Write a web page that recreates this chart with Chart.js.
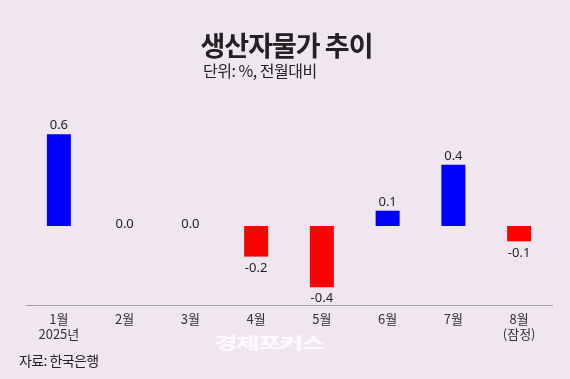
<!DOCTYPE html>
<html><head><meta charset="utf-8">
<script src="https://cdn.jsdelivr.net/npm/chart.js@4/dist/chart.umd.min.js"></script>
<style>
html,body{margin:0;padding:0;background:#f0e6ef;}
#wrap{position:relative;width:570px;height:379px;overflow:hidden;background:#f0e6ef;font-family:"Noto Sans CJK KR","Noto Sans",sans-serif;}
canvas{position:absolute;left:0;top:0;}
.t{position:absolute;white-space:nowrap;}
#title{left:0;width:573px;text-align:center;top:25px;font-size:27px;font-weight:700;color:#222;letter-spacing:-1px;}
#sub{left:203px;top:58px;font-size:16px;color:#222;letter-spacing:-0.5px;}
#src{left:19px;top:350px;font-size:14px;color:#222;letter-spacing:-0.6px;}
#wm{left:214px;top:330px;font-size:16px;font-weight:900;color:#fcfafc;letter-spacing:-1px;transform-origin:0 0;transform:scaleX(1.6);}
</style></head>
<body>
<div id="wrap">
<canvas id="c" width="570" height="379"></canvas>
<div class="t" id="title">생산자물가 추이</div>
<div class="t" id="sub">단위: %, 전월대비</div>
<div class="t" id="src">자료: 한국은행</div>
<div class="t" id="wm">경제포커스</div>
</div>
<script>
const categories = [["1월","2025년"],"2월","3월","4월","5월","6월","7월",["8월","(잠정)"]];
const values = [0.6, 0.0, 0.0, -0.2, -0.4, 0.1, 0.4, -0.1];
const valueLabels = ["0.6","0.0","0.0","-0.2","-0.4","0.1","0.4","-0.1"];

const labelPlugin = {
  id:'vlabels',
  afterDatasetsDraw(chart){
    const ctx = chart.ctx;
    const meta = chart.getDatasetMeta(0);
    ctx.save();
    ctx.font = '13px "Noto Sans","Noto Sans CJK KR",sans-serif';
    ctx.fillStyle = '#222';
    ctx.textAlign = 'center';
    meta.data.forEach((bar,i)=>{
      const v = values[i];
      if (v > 0) { ctx.textBaseline='bottom'; ctx.fillText(valueLabels[i], bar.x, bar.y - 2); }
      else if (v === 0) { ctx.textBaseline='bottom'; ctx.fillText(valueLabels[i], bar.x, bar.y + 5); }
      else { ctx.textBaseline='top'; ctx.fillText(valueLabels[i], bar.x, bar.y + 5); }
    });
    ctx.restore();
  }
};

new Chart(document.getElementById('c'), {
  type:'bar',
  data:{
    labels: categories,
    datasets:[{
      data: values,
      backgroundColor: values.map(v => v >= 0 ? '#0000ff' : '#ff0000'),
      borderWidth:0,
      barPercentage:0.365,
      categoryPercentage:1
    }]
  },
  options:{
    responsive:false,
    animation:false,
    events:[],
    layout:{padding:{left:26,right:18,top:100,bottom:0}},
    plugins:{legend:{display:false},tooltip:{enabled:false}},
    scales:{
      x:{
        grid:{display:false,drawTicks:false},
        border:{display:true,color:'#a3a0a3',width:1},
        ticks:{color:'#333',padding:6,font:{size:13,family:'"Noto Sans CJK KR","Noto Sans",sans-serif'},maxRotation:0,autoSkip:false},
        afterFit(s){ s.height = 74; }
      },
      y:{display:false,min:-0.5163,max:0.8235}
    }
  },
  plugins:[labelPlugin]
});
</script>
</body></html>
